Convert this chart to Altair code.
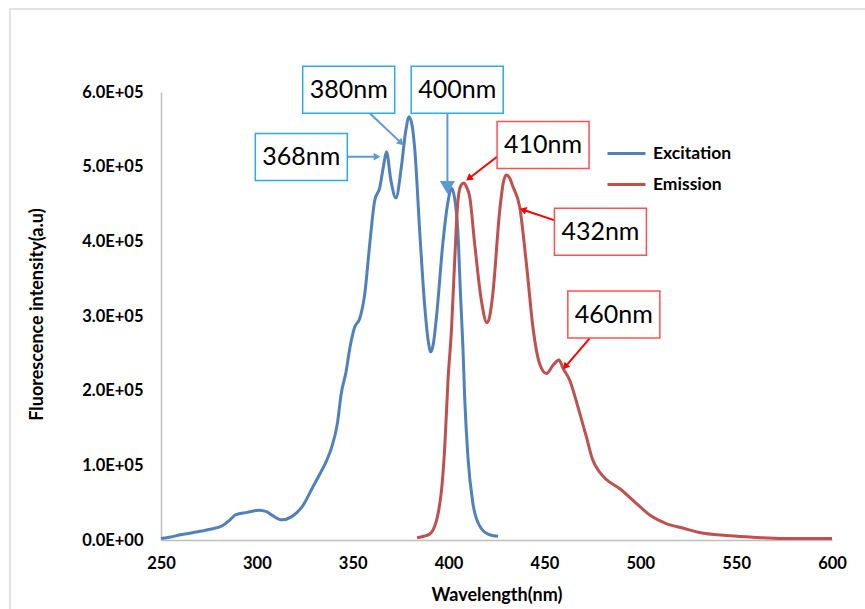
import math
import altair as alt
import pandas as pd

# ---------------- data (intensity in units of 1e5) ----------------
ex_nm = [250, 255, 260, 267, 275, 282, 286, 289, 295, 301, 305, 308, 313, 318, 324, 329,
         333, 336.5, 339, 342, 344, 346.5, 348.5, 351, 353.7, 356.3, 358.9, 361.5, 364.1,
         366, 367.6, 369.9, 372.5, 375.4, 377.5, 379.4, 381, 382.4, 385, 387.6, 389.5,
         390.7, 392, 393.7, 397, 399.5, 401.5, 403, 404.9, 406.2, 407.5, 408.4, 410.1,
         412.7, 416.2, 420.6, 425.8]
ex_val = [0.02, 0.04, 0.07, 0.10, 0.14, 0.19, 0.27, 0.34, 0.37, 0.40, 0.38, 0.33, 0.27,
          0.31, 0.46, 0.70, 0.89, 1.07, 1.24, 1.56, 1.96, 2.25, 2.57, 2.85, 2.97, 3.30,
          3.97, 4.55, 4.72, 5.00, 5.20, 4.82, 4.58, 5.00, 5.45, 5.67, 5.55, 5.22, 4.11,
          3.12, 2.65, 2.52, 2.62, 2.99, 3.97, 4.50, 4.71, 4.60, 4.11, 3.30, 2.57, 1.91,
          1.11, 0.49, 0.19, 0.08, 0.05]

em_nm = [383.6, 387, 390.2, 392, 393.7, 395, 396.3, 398, 399.7, 401.5, 403.2, 404.9,
         406.5, 407.9, 409.5, 411, 413.6, 417.1, 420, 421.5, 423.1, 426.7, 428.5, 430.1,
         431.8, 433.6, 437.1, 440.6, 444.1, 447.5, 451, 454.5, 457.6, 459.7, 463.2,
         467.5, 471.9, 475.2, 478.8, 482.3, 489.2, 497.9, 505.7, 513.5, 522.2, 530.9,
         544.8, 557, 574.3, 600]
em_val = [0.03, 0.05, 0.08, 0.14, 0.26, 0.42, 0.66, 1.24, 2.14, 2.81, 3.75, 4.55, 4.75,
          4.78, 4.72, 4.60, 3.97, 3.21, 2.91, 3.00, 3.30, 4.42, 4.78, 4.89, 4.85, 4.73,
          4.46, 3.70, 2.83, 2.36, 2.23, 2.34, 2.41, 2.30, 2.14, 1.78, 1.38, 1.07, 0.91,
          0.81, 0.69, 0.49, 0.32, 0.22, 0.16, 0.10, 0.06, 0.04, 0.02, 0.02]

series_names = ["Excitation", "Emission"]
series_colors = ["#4F81BD", "#C0504D"]

# ---------------- annotations (data units) ----------------
ann_text = ["368nm", "380nm", "400nm", "410nm", "432nm", "460nm"]
ann_group = ["ex", "ex", "ex", "em", "em", "em"]
box_cx = [323.2, 347.9, 404.5, 449.3, 479.2, 486.2]
box_cy = [5.13, 6.03, 6.03, 5.29, 4.13, 3.02]
arrow_x0 = [323.95, 358.9, 399.4, 425.3, 455.4, 473.6]
arrow_y0 = [5.133, 5.715, 5.715, 5.133, 4.28, 2.70]
arrow_x1 = [364.7, 376.7, 399.4, 409.0, 436.9, 459.5]
arrow_y1 = [5.133, 5.283, 4.62, 4.81, 4.44, 2.28]
head_size = [60, 60, 230, 60, 60, 60]

box_stroke = {"ex": "#2AABE2", "em": "#FF5050"}
arrow_color = {"ex": "#5B9BD5", "em": "#FF0000"}

# ---------------- layout ----------------
W, H = 671, 448
X0, X1 = 250, 600
YMAX = 6.0
px_nm = W / (X1 - X0)
px_val = H / YMAX
box_half_w = 46 / px_nm
box_half_h = 23.5 / px_val

rows = []
for n, v in zip(ex_nm, ex_val):
    rows.append({"nm": n, "val": v * 1e5, "series": "Excitation"})
for n, v in zip(em_nm, em_val):
    rows.append({"nm": n, "val": v * 1e5, "series": "Emission"})
lines_df = pd.DataFrame(rows)

ann_rows = []
for i in range(len(ann_text)):
    dxp = (arrow_x1[i] - arrow_x0[i]) * px_nm
    dyp = -(arrow_y1[i] - arrow_y0[i]) * px_val
    L = math.hypot(dxp, dyp)
    ux, uy = dxp / L, dyp / L
    r = math.sqrt(head_size[i]) / 2
    hx = arrow_x1[i] - ux * r / px_nm
    hy = arrow_y1[i] + uy * r / px_val
    ang = math.degrees(math.atan2(dxp, -dyp)) % 360
    g = ann_group[i]
    ann_rows.append({
        "text": ann_text[i],
        "cx": box_cx[i], "cy": box_cy[i] * 1e5,
        "bx0": box_cx[i] - box_half_w, "bx1": box_cx[i] + box_half_w,
        "by0": (box_cy[i] - box_half_h) * 1e5, "by1": (box_cy[i] + box_half_h) * 1e5,
        "ax0": arrow_x0[i], "ay0": arrow_y0[i] * 1e5,
        "ax1": hx, "ay1": hy * 1e5,
        "hx": hx, "hy": hy * 1e5,
        "angle": ang, "hsize": head_size[i],
        "bstroke": box_stroke[g], "acolor": arrow_color[g],
    })
ann_df = pd.DataFrame(ann_rows)

FONT = "Lato"

xscale = alt.Scale(domain=[X0, X1], nice=False, zero=False)
yscale = alt.Scale(domain=[0, YMAX * 1e5], nice=False)

frame = alt.Chart(pd.DataFrame({"a": [0]})).mark_rect(
    fill=None, stroke="#D9D9D9", strokeWidth=1.5
).encode(
    x=alt.value(10 - 161), x2=alt.value(865 - 161 + 10),
    y=alt.value(9 - 92), y2=alt.value(609 - 92 + 10),
)

lines = alt.Chart(lines_df).mark_line(strokeWidth=3, interpolate="monotone").encode(
    x=alt.X("nm:Q", scale=xscale,
            axis=alt.Axis(values=list(range(250, 601, 50)), title="Wavelength(nm)",
                          labelFont=FONT, labelFontSize=16.5, labelFontWeight="bold",
                          labelColor="#000000", labelPadding=15, labelFlush=False,
                          ticks=False, grid=False,
                          domainColor="#BFBFBF", domainWidth=1.5,
                          titleFont=FONT, titleFontSize=18, titleFontWeight="bold",
                          titleColor="#000000", titleY=55, titleBaseline="middle")),
    y=alt.Y("val:Q", scale=yscale,
            axis=alt.Axis(values=[i * 1e5 for i in range(7)],
                          labelExpr="datum.value == 0 ? '0.0E+00' : format(datum.value/100000, '.1f') + 'E+05'",
                          title="Fluorescence intensity(a.u)",
                          labelFont=FONT, labelFontSize=16.5, labelFontWeight="bold",
                          labelColor="#000000", labelPadding=18, labelFlush=False,
                          ticks=False, grid=False,
                          domainColor="#BFBFBF", domainWidth=1.5,
                          titleFont=FONT, titleFontSize=18, titleFontWeight="bold",
                          titleColor="#000000", titleAngle=270, titleX=-124, titleY=222,
                          titleAlign="center", titleBaseline="middle")),
    color=alt.Color("series:N", scale=alt.Scale(domain=series_names, range=series_colors),
                    sort=series_names,
                    legend=alt.Legend(orient="none", legendX=445, legendY=41, title=None,
                                      symbolType="stroke", symbolSize=1444,
                                      symbolStrokeWidth=3, labelFont=FONT,
                                      labelFontSize=17.5, labelFontWeight="bold",
                                      labelColor="#000000", labelOffset=6,
                                      rowPadding=2, padding=0)),
    detail="series:N",
)

base_ann = alt.Chart(ann_df)

arrows = base_ann.mark_rule(strokeWidth=2).encode(
    x=alt.X("ax0:Q", scale=xscale), y=alt.Y("ay0:Q", scale=yscale),
    x2="ax1:Q", y2="ay1:Q",
    stroke=alt.Stroke("acolor:N", scale=None),
)

heads = base_ann.mark_point(shape="triangle-up", filled=True, opacity=1).encode(
    x=alt.X("hx:Q", scale=xscale), y=alt.Y("hy:Q", scale=yscale),
    angle=alt.Angle("angle:Q", scale=None),
    size=alt.Size("hsize:Q", scale=None),
    fill=alt.Fill("acolor:N", scale=None),
)

boxes = base_ann.mark_rect(fill="white", strokeWidth=1.5).encode(
    x=alt.X("bx0:Q", scale=xscale), x2="bx1:Q",
    y=alt.Y("by0:Q", scale=yscale), y2="by1:Q",
    stroke=alt.Stroke("bstroke:N", scale=None),
)

texts = base_ann.mark_text(font=FONT, fontSize=25, color="#000000",
                           align="center", baseline="middle").encode(
    x=alt.X("cx:Q", scale=xscale), y=alt.Y("cy:Q", scale=yscale), text="text:N",
)

chart = alt.layer(frame, lines, arrows, heads, boxes, texts).properties(
    width=W, height=H,
    autosize=alt.AutoSizeParams(type="none"),
    padding={"left": 161, "top": 92, "right": 33, "bottom": 69},
    background="white",
).configure_view(stroke=None)

chart.save("out.html", embed_options={"renderer": "svg", "actions": False})
